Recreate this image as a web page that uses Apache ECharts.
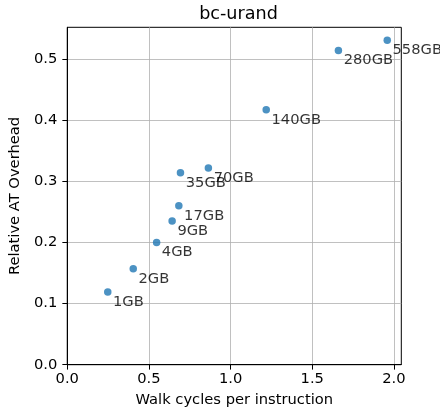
<!DOCTYPE html>
<html>
<head>
<meta charset="utf-8">
<title>bc-urand</title>
<script src="https://cdn.jsdelivr.net/npm/echarts@6/dist/echarts.min.js"></script>
<style>
  html, body { margin: 0; padding: 0; background: #fff; }
  #chart { width: 440px; height: 413px; }
</style>
</head>
<body>
<div id="chart"></div>
<script>
// data
var sizes = ['1GB', '2GB', '4GB', '9GB', '17GB', '35GB', '70GB', '140GB', '280GB', '558GB'];
var walkCycles = [0.248, 0.404, 0.547, 0.642, 0.683, 0.693, 0.864, 1.218, 1.660, 1.959];
var overhead = [0.119, 0.157, 0.200, 0.235, 0.260, 0.314, 0.322, 0.417, 0.514, 0.531];
var xTicks = [0, 0.5, 1.0, 1.5, 2.0];
var yTicks = [0, 0.1, 0.2, 0.3, 0.4, 0.5];

var font = 'DejaVu Sans';
var fs = 14.7;
var points = [];
for (var i = 0; i < sizes.length; i++) {
  points.push([walkCycles[i], overhead[i], sizes[i]]);
}

var myChart = echarts.init(document.getElementById('chart'));
var option = {
  animation: false,
  backgroundColor: '#fff',
  title: {
    text: 'bc-urand',
    left: 233.5,
    textAlign: 'center',
    top: 0,
    textStyle: { fontFamily: font, fontSize: 17.6, fontWeight: 'normal', color: '#000' }
  },
  grid: {
    left: 66, right: 38.7, top: 27.3, bottom: 48.3,
    show: true, borderColor: '#000', borderWidth: 1
  },
  xAxis: {
    type: 'value',
    min: 0, max: 2.045, interval: 0.5,
    name: 'Walk cycles per instruction',
    nameLocation: 'middle',
    nameGap: 28,
    nameTextStyle: { fontFamily: font, fontSize: fs, color: '#000' },
    axisLine: { show: true, lineStyle: { color: '#000', width: 1 } },
    axisTick: { show: true, length: 4.9, lineStyle: { color: '#000' }, customValues: xTicks },
    axisLabel: {
      fontFamily: font, fontSize: fs, color: '#000', margin: 7,
      customValues: xTicks,
      formatter: function (v) { return v.toFixed(1); }
    },
    splitLine: { show: true, lineStyle: { color: '#b0b0b0', width: 0.8 } }
  },
  yAxis: {
    type: 'value',
    min: 0, max: 0.552, interval: 0.1,
    name: 'Relative AT Overhead',
    nameLocation: 'middle',
    nameGap: 37,
    nameTextStyle: { fontFamily: font, fontSize: fs, color: '#000' },
    axisLine: { show: true, lineStyle: { color: '#000', width: 1 } },
    axisTick: { show: true, length: 4.9, lineStyle: { color: '#000' }, customValues: yTicks },
    axisLabel: {
      fontFamily: font, fontSize: fs, color: '#000', margin: 10,
      customValues: yTicks,
      formatter: function (v) { return v.toFixed(1); }
    },
    splitLine: { show: true, lineStyle: { color: '#b0b0b0', width: 0.8 } }
  },
  series: [{
    type: 'scatter',
    data: points,
    symbolSize: 7.5,
    itemStyle: { color: '#1f77b4', opacity: 0.8 },
    label: {
      show: true,
      position: 'right',
      distance: 1.5,
      offset: [0, 10],
      fontFamily: font,
      fontSize: fs,
      color: '#000',
      formatter: function (p) { return p.data[2]; }
    }
  }]
};
myChart.setOption(option);
</script>
</body>
</html>
